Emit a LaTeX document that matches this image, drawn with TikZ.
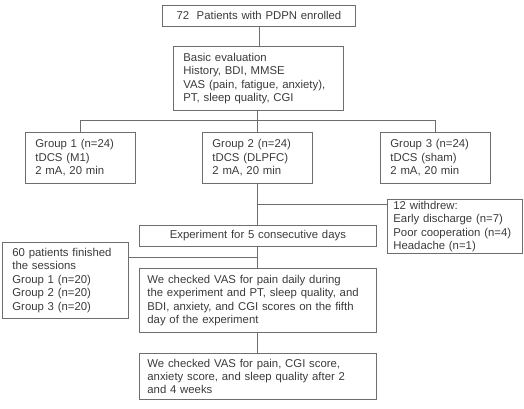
\documentclass[tikz,border=0pt]{standalone}
\usepackage{fontspec}
\setmainfont{Liberation Sans}
\definecolor{linegray}{HTML}{6E6E6E}
\definecolor{textgray}{HTML}{3A3A3A}

\tikzset{
  box/.style={draw=linegray, line width=0.8bp, text=textgray, anchor=north west,
    inner xsep=10bp, inner ysep=0pt, align=left,
    font=\fontsize{11.4}{13.5}\selectfont},
  link/.style={draw=linegray, line width=0.8bp}
}

\begin{document}
\begin{tikzpicture}[x=1bp, y=-1bp]
  \useasboundingbox (0,0) rectangle (524,408);
  % boxes
  \node[box, align=center, text width=173bp, minimum height=21bp] (enrol) at (162,5)
    {72\ \ Patients with PDPN enrolled};
  \node[box, text width=150bp, minimum height=64bp] (basic) at (173,46)
    {Basic evaluation\\History, BDI, MMSE\\VAS (pain, fatigue, anxiety),\\PT, sleep quality, CGI};
  \node[box, text width=90bp, minimum height=51bp] (grpa) at (25,132)
    {Group 1 (n=24)\\tDCS (M1)\\2 mA, 20 min};
  \node[box, text width=90bp, minimum height=51bp] (grpb) at (202,132)
    {Group 2 (n=24)\\tDCS (DLPFC)\\2 mA, 20 min};
  \node[box, text width=90bp, minimum height=51bp] (grpc) at (380,132)
    {Group 3 (n=24)\\tDCS (sham)\\2 mA, 20 min};
  \node[box, text width=123bp, inner xsep=6bp, minimum height=54bp] (withdrew) at (387,199)
    {12 withdrew:\\Early discharge (n=7)\\Poor cooperation (n=4)\\Headache (n=1)};
  \node[box, align=center, text width=217bp, minimum height=21bp] (expt) at (139,225)
    {Experiment for 5 consecutive days};
  \node[box, text width=106bp, minimum height=76bp] (finished) at (2,242)
    {60 patients finished\\the sessions\\Group 1 (n=20)\\Group 2 (n=20)\\Group 3 (n=20)};
  \node[box, text width=221bp, inner xsep=8bp, minimum height=64bp] (daily) at (139,268)
    {We checked VAS for pain daily during\\the experiment and PT, sleep quality, and\\BDI, anxiety, and CGI scores on the fifth\\day of the experiment};
  \node[box, text width=221bp, inner xsep=8bp, minimum height=46bp] (later) at (139,353)
    {We checked VAS for pain, CGI score,\\anxiety score, and sleep quality after 2\\and 4 weeks};
  % connectors
  \coordinate (split) at (257,120);
  \coordinate (wdjoin) at (257,204);
  \coordinate (fnjoin) at (257,257);
  \draw[link] (enrol.south) -- (enrol.south |- basic.north);
  \draw[link] (basic.south -| split) -- (grpb.north -| split);
  \draw[link] (split) -| (grpa.north);
  \draw[link] (split) -| (grpc.north);
  \draw[link] (grpb.south -| split) -- (expt.north -| split);
  \draw[link] (wdjoin) -- (wdjoin -| withdrew.west);
  \draw[link] (expt.south -| split) -- (daily.north -| split);
  \draw[link] (fnjoin) -- (fnjoin -| finished.east);
  \draw[link] (daily.south -| split) -- (later.north -| split);
\end{tikzpicture}
\end{document}
